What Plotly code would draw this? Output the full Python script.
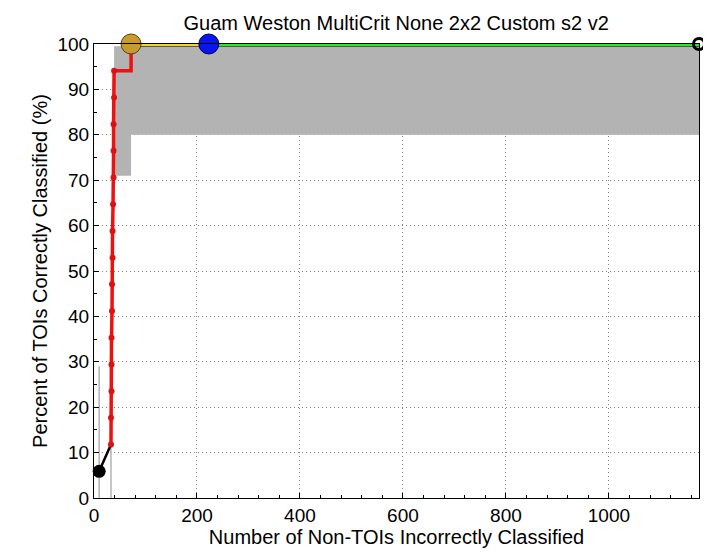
import plotly.graph_objects as go

# ROC curve (red) points
roc_x = [33, 33, 34, 34, 34, 35, 35, 36, 36, 37, 38, 38, 38, 39, 39, 72, 72]
roc_y = [11.76, 17.65, 23.53, 29.41, 35.29, 41.18, 47.06, 52.94, 58.82, 64.71,
         70.59, 76.47, 82.35, 88.24, 94.12, 94.12, 100]
roc_mark_x = roc_x[:15]
roc_mark_y = roc_y[:15]

# initial black segment
start_x = [10, 33]
start_y = [5.88, 11.76]

# confidence band (grey)
band_x = [39, 39, 72, 72, 1175]
band_lo = [99.5, 71, 71, 80, 80]
band_hi_x = [1175, 39]
band_hi = [99.5, 99.5]

# thin grey band lines at lower left
thin1_x = [10, 10]
thin1_y = [0, 29]
thin2_x = [33, 33]
thin2_y = [0, 12]

# yellow and green segments along the top
yellow_x = [72, 223]
yellow_y = [100, 100]
green_x = [223, 1175]
green_y = [100, 100]

# special points
orange_pt = (72, 100)
blue_pt = (223, 100)
end_pt = (1175, 100)
start_pt = (10, 5.88)

FONT = "Liberation Sans, Arial"

fig = go.Figure()

fig.add_trace(go.Scatter(x=band_x + band_hi_x, y=band_lo + band_hi, fill="toself",
                         fillcolor="#b3b3b3", line=dict(width=0), mode="lines",
                         hoverinfo="skip"))
fig.add_trace(go.Scatter(x=thin1_x, y=thin1_y, mode="lines",
                         line=dict(color="#b3b3b3", width=1.5)))
fig.add_trace(go.Scatter(x=thin2_x, y=thin2_y, mode="lines",
                         line=dict(color="#b3b3b3", width=1.5)))

# top lines with dark outline
fig.add_trace(go.Scatter(x=yellow_x + green_x[1:], y=yellow_y + green_y[1:], mode="lines",
                         cliponaxis=False, line=dict(color="#333333", width=5.5)))
fig.add_trace(go.Scatter(x=yellow_x, y=yellow_y, mode="lines", cliponaxis=False,
                         line=dict(color="#f2d52e", width=4)))
fig.add_trace(go.Scatter(x=green_x, y=green_y, mode="lines", cliponaxis=False,
                         line=dict(color="#22ee22", width=4)))

# black starting segment
fig.add_trace(go.Scatter(x=start_x, y=start_y, mode="lines",
                         line=dict(color="black", width=2.5)))

# red ROC
fig.add_trace(go.Scatter(x=roc_x, y=roc_y, mode="lines",
                         line=dict(color="#ee1111", width=3.5)))
fig.add_trace(go.Scatter(x=roc_mark_x, y=roc_mark_y, mode="markers",
                         marker=dict(color="#dd1111", size=6)))

# special markers
fig.add_trace(go.Scatter(x=[start_pt[0]], y=[start_pt[1]], mode="markers", cliponaxis=False,
                         marker=dict(color="black", size=13)))
fig.add_trace(go.Scatter(x=[end_pt[0]], y=[end_pt[1]], mode="markers", cliponaxis=False,
                         marker=dict(color="rgba(0,0,0,0)", size=11,
                                     line=dict(color="black", width=3))))
fig.add_trace(go.Scatter(x=[orange_pt[0]], y=[orange_pt[1]], mode="markers", cliponaxis=False,
                         marker=dict(color="#c99a2e", size=20,
                                     line=dict(color="#554411", width=1))))
fig.add_trace(go.Scatter(x=[blue_pt[0]], y=[blue_pt[1]], mode="markers", cliponaxis=False,
                         marker=dict(color="#0a14f0", size=20,
                                     line=dict(color="#000044", width=1))))

axis_common = dict(showline=True, linecolor="black", linewidth=1, mirror=True,
                   ticks="inside", ticklen=5, tickcolor="black",
                   showgrid=True, gridcolor="#808080", griddash="1px,3px", gridwidth=1,
                   zeroline=False, tickfont=dict(size=19, color="black", family=FONT))

fig.update_xaxes(range=[0, 1175], tickvals=[0, 200, 400, 600, 800, 1000],
                 minor=dict(dtick=40, tick0=0, ticks="inside", ticklen=3,
                            tickcolor="black", showgrid=False),
                 title=dict(text="Number of Non-TOIs Incorrectly Classified",
                            font=dict(size=20, color="black", family=FONT),
                            standoff=2),
                 **axis_common)
fig.update_yaxes(range=[0, 100], tickvals=list(range(0, 101, 10)),
                 minor=dict(dtick=5, tick0=0, ticks="inside", ticklen=3,
                            tickcolor="black", showgrid=False),
                 title=dict(text="Percent of TOIs Correctly Classified (%)",
                            font=dict(size=20, color="black", family=FONT),
                            standoff=4),
                 **axis_common)

fig.update_layout(
    width=711, height=556,
    margin=dict(l=86, r=20, t=36, b=66),
    paper_bgcolor="white", plot_bgcolor="white",
    showlegend=False,
    title=dict(text="Guam Weston MultiCrit None 2x2 Custom s2 v2",
               x=0.546, xanchor="center", y=0.973, yanchor="middle",
               font=dict(size=20, color="black", family=FONT)),
)

fig.write_html("out.html")
